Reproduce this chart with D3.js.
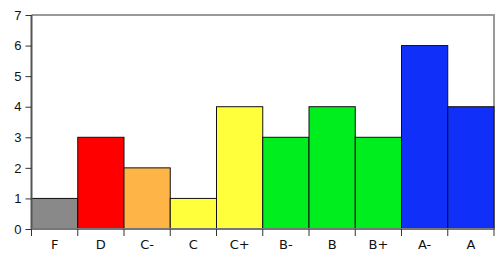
<!DOCTYPE html>
<html>
<head>
<meta charset="utf-8">
<script src="https://cdn.jsdelivr.net/npm/d3@7"></script>
<style>
  body { margin: 0; background: #fff; }
  svg { display: block; font-family: "DejaVu Sans", sans-serif; }
</style>
</head>
<body>
<div id="wrapper"></div>
<script>
// data
const grades = ["F", "D", "C-", "C", "C+", "B-", "B", "B+", "A-", "A"];
const counts = [1, 3, 2, 1, 4, 3, 4, 3, 6, 4];
const barColors = ["#898989", "#ff0000", "#ffb448", "#ffff3c", "#ffff3c", "#00ee1e", "#00ee1e", "#00ee1e", "#1030fa", "#1030fa"];
const yTicks = [0, 1, 2, 3, 4, 5, 6, 7];

const dimensions = {
  width: 500,
  height: 260,
  margin: { top: 15, right: 6, bottom: 31, left: 31.5 },
};
dimensions.boundedWidth = dimensions.width - dimensions.margin.left - dimensions.margin.right;
dimensions.boundedHeight = dimensions.height - dimensions.margin.top - dimensions.margin.bottom;

const wrapper = d3.select("#wrapper").append("svg")
  .attr("width", dimensions.width)
  .attr("height", dimensions.height);
const bounds = wrapper.append("g")
  .attr("transform", `translate(${dimensions.margin.left},${dimensions.margin.top})`);

// scales
const xScale = d3.scaleBand()
  .domain(grades)
  .range([0, dimensions.boundedWidth])
  .padding(0);
const yScale = d3.scaleLinear()
  .domain([0, 7])
  .range([dimensions.boundedHeight, 0]);

// frame (top + right)
bounds.append("path")
  .attr("d", `M0,0H${dimensions.boundedWidth}V${dimensions.boundedHeight}`)
  .attr("fill", "none")
  .attr("stroke", "#999")
  .attr("stroke-width", 2);

// bars
bounds.append("g").selectAll("rect")
  .data(grades)
  .join("rect")
  .attr("x", d => xScale(d))
  .attr("y", (d, i) => yScale(counts[i]))
  .attr("width", xScale.bandwidth())
  .attr("height", (d, i) => yScale(0) - yScale(counts[i]))
  .attr("fill", (d, i) => barColors[i])
  .attr("stroke", "#111")
  .attr("stroke-width", 1);

// y axis
const yAxis = bounds.append("g")
  .call(d3.axisLeft(yScale).tickValues(yTicks).tickSize(6).tickPadding(4).tickFormat(d3.format("d")));
yAxis.select(".domain").attr("stroke", "#555").attr("stroke-width", 2).attr("d", `M0,${dimensions.boundedHeight}V0`);
yAxis.selectAll(".tick line").attr("stroke", "#333");
yAxis.selectAll("text").attr("fill", "#111").style("font-size", "13px");

// x axis: ticks at band edges, labels centred
const xAxis = bounds.append("g")
  .attr("transform", `translate(0,${dimensions.boundedHeight})`);
xAxis.append("line")
  .attr("x1", 0).attr("x2", dimensions.boundedWidth)
  .attr("stroke", "#777").attr("stroke-width", 2);
const edges = grades.map(g => xScale(g)).concat([dimensions.boundedWidth]);
xAxis.selectAll(".edge")
  .data(edges)
  .join("line")
  .attr("class", "edge")
  .attr("x1", d => d).attr("x2", d => d)
  .attr("y1", 0).attr("y2", 7)
  .attr("stroke", "#333");
xAxis.selectAll(".label")
  .data(grades)
  .join("text")
  .attr("class", "label")
  .attr("x", d => xScale(d) + xScale.bandwidth() / 2)
  .attr("y", 20)
  .attr("text-anchor", "middle")
  .attr("fill", "#111")
  .style("font-size", "13px")
  .text(d => d);
</script>
</body>
</html>
